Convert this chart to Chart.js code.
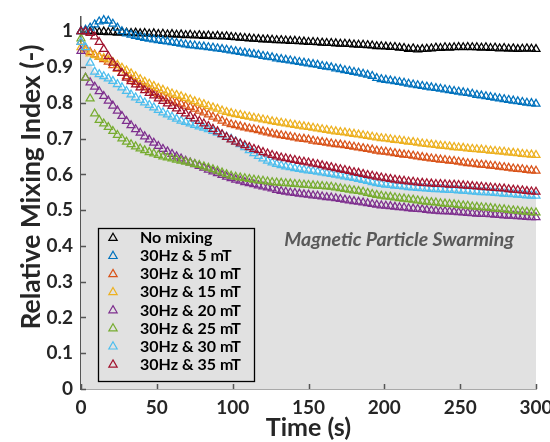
<!DOCTYPE html>
<html>
<head>
<meta charset="utf-8">
<script src="https://cdn.jsdelivr.net/npm/chart.js@4.4.1/dist/chart.umd.min.js"></script>
<style>
  html, body { margin: 0; padding: 0; background: #fff; }
  #wrap { position: relative; width: 550px; height: 442px; }
</style>
</head>
<body>
<div id="wrap"><canvas id="mix"></canvas></div>
<script>
// Relative mixing index vs time, one series per field setting

// time (s), sampled every 3 s
const times = [
  0, 3, 6, 9, 12, 15, 18, 21, 24, 27, 30,
  33, 36, 39, 42, 45, 48, 51, 54, 57, 60, 63,
  66, 69, 72, 75, 78, 81, 84, 87, 90, 93, 96,
  99, 102, 105, 108, 111, 114, 117, 120, 123, 126, 129,
  132, 135, 138, 141, 144, 147, 150, 153, 156, 159, 162,
  165, 168, 171, 174, 177, 180, 183, 186, 189, 192, 195,
  198, 201, 204, 207, 210, 213, 216, 219, 222, 225, 228,
  231, 234, 237, 240, 243, 246, 249, 252, 255, 258, 261,
  264, 267, 270, 273, 276, 279, 282, 285, 288, 291, 294,
  297, 300
];

const noMixing = [
  1.000, 1.001, 0.999, 1.000, 0.998, 0.999, 0.997, 0.998, 0.996, 0.997, 0.996,
  0.995, 0.996, 0.994, 0.995, 0.993, 0.994, 0.992, 0.993, 0.991, 0.992, 0.990,
  0.991, 0.989, 0.990, 0.988, 0.989, 0.987, 0.988, 0.986, 0.987, 0.985, 0.986,
  0.984, 0.983, 0.982, 0.981, 0.980, 0.979, 0.978, 0.977, 0.977, 0.976, 0.975,
  0.975, 0.974, 0.973, 0.973, 0.972, 0.971, 0.970, 0.970, 0.969, 0.968, 0.967,
  0.967, 0.966, 0.965, 0.965, 0.964, 0.963, 0.962, 0.962, 0.961, 0.960, 0.958,
  0.958, 0.957, 0.956, 0.956, 0.954, 0.953, 0.950, 0.952, 0.949, 0.950, 0.951,
  0.952, 0.954, 0.953, 0.955, 0.954, 0.955, 0.956, 0.955, 0.956, 0.955, 0.955,
  0.954, 0.955, 0.953, 0.954, 0.952, 0.953, 0.951, 0.952, 0.950, 0.951, 0.952,
  0.951, 0.950
];

const mT5 = [
  1.000, 1.004, 1.010, 1.019, 1.027, 1.031, 1.029, 1.021, 1.010, 1.000, 0.994,
  0.990, 0.987, 0.984, 0.981, 0.979, 0.977, 0.975, 0.973, 0.971, 0.969, 0.967,
  0.965, 0.963, 0.961, 0.960, 0.958, 0.957, 0.955, 0.954, 0.952, 0.950, 0.948,
  0.946, 0.944, 0.942, 0.940, 0.938, 0.936, 0.934, 0.931, 0.929, 0.927, 0.924,
  0.922, 0.920, 0.918, 0.916, 0.914, 0.912, 0.910, 0.908, 0.906, 0.903, 0.901,
  0.899, 0.896, 0.894, 0.891, 0.889, 0.886, 0.884, 0.881, 0.878, 0.875, 0.869,
  0.866, 0.864, 0.862, 0.860, 0.858, 0.856, 0.853, 0.851, 0.849, 0.847, 0.845,
  0.843, 0.841, 0.839, 0.837, 0.835, 0.833, 0.831, 0.829, 0.827, 0.825, 0.822,
  0.820, 0.818, 0.816, 0.814, 0.812, 0.810, 0.808, 0.806, 0.804, 0.802, 0.800,
  0.799, 0.797
];

const mT10 = [
  0.970, 0.952, 0.942, 0.935, 0.929, 0.922, 0.915, 0.905, 0.895, 0.884, 0.874,
  0.866, 0.858, 0.851, 0.844, 0.837, 0.830, 0.824, 0.818, 0.812, 0.806, 0.801,
  0.797, 0.792, 0.788, 0.783, 0.778, 0.773, 0.767, 0.761, 0.756, 0.750, 0.744,
  0.740, 0.737, 0.734, 0.731, 0.728, 0.726, 0.723, 0.720, 0.717, 0.714, 0.711,
  0.709, 0.707, 0.705, 0.703, 0.700, 0.699, 0.697, 0.694, 0.692, 0.690, 0.688,
  0.686, 0.684, 0.683, 0.681, 0.679, 0.677, 0.675, 0.673, 0.671, 0.669, 0.666,
  0.664, 0.663, 0.661, 0.659, 0.657, 0.655, 0.654, 0.652, 0.650, 0.648, 0.646,
  0.644, 0.643, 0.641, 0.640, 0.638, 0.637, 0.635, 0.633, 0.631, 0.630, 0.628,
  0.627, 0.626, 0.624, 0.623, 0.621, 0.620, 0.618, 0.616, 0.615, 0.614, 0.612,
  0.611, 0.610
];

const mT15 = [
  0.955, 0.945, 0.938, 0.933, 0.929, 0.925, 0.921, 0.914, 0.906, 0.898, 0.890,
  0.882, 0.874, 0.866, 0.859, 0.853, 0.847, 0.841, 0.836, 0.831, 0.826, 0.822,
  0.818, 0.813, 0.809, 0.804, 0.800, 0.796, 0.791, 0.787, 0.783, 0.778, 0.774,
  0.771, 0.768, 0.766, 0.763, 0.761, 0.758, 0.756, 0.753, 0.751, 0.748, 0.746,
  0.744, 0.742, 0.740, 0.738, 0.736, 0.734, 0.732, 0.730, 0.728, 0.726, 0.724,
  0.722, 0.720, 0.718, 0.717, 0.715, 0.713, 0.711, 0.709, 0.707, 0.705, 0.703,
  0.701, 0.700, 0.698, 0.696, 0.695, 0.693, 0.691, 0.690, 0.688, 0.686, 0.685,
  0.683, 0.682, 0.680, 0.679, 0.678, 0.676, 0.675, 0.674, 0.672, 0.671, 0.670,
  0.669, 0.668, 0.666, 0.665, 0.664, 0.663, 0.661, 0.660, 0.659, 0.657, 0.656,
  0.655, 0.654
];

const mT20 = [
  0.945, 0.870, 0.857, 0.845, 0.832, 0.819, 0.806, 0.792, 0.778, 0.763, 0.749,
  0.737, 0.726, 0.716, 0.706, 0.697, 0.688, 0.679, 0.671, 0.664, 0.657, 0.650,
  0.644, 0.638, 0.633, 0.628, 0.623, 0.618, 0.613, 0.608, 0.603, 0.598, 0.593,
  0.589, 0.585, 0.582, 0.578, 0.575, 0.572, 0.569, 0.566, 0.563, 0.560, 0.556,
  0.553, 0.551, 0.549, 0.548, 0.546, 0.544, 0.543, 0.541, 0.540, 0.538, 0.536,
  0.535, 0.533, 0.531, 0.529, 0.527, 0.525, 0.523, 0.521, 0.519, 0.517, 0.515,
  0.513, 0.512, 0.511, 0.509, 0.508, 0.507, 0.505, 0.504, 0.503, 0.502, 0.500,
  0.499, 0.498, 0.497, 0.497, 0.496, 0.495, 0.494, 0.493, 0.492, 0.491, 0.490,
  0.489, 0.489, 0.488, 0.487, 0.486, 0.485, 0.484, 0.484, 0.483, 0.482, 0.481,
  0.480, 0.480
];

const mT25 = [
  0.980, 0.870, 0.812, 0.770, 0.752, 0.742, 0.732, 0.721, 0.710, 0.700, 0.691,
  0.684, 0.678, 0.672, 0.667, 0.662, 0.658, 0.654, 0.650, 0.647, 0.644, 0.641,
  0.638, 0.635, 0.632, 0.629, 0.626, 0.622, 0.618, 0.614, 0.610, 0.605, 0.600,
  0.596, 0.593, 0.591, 0.589, 0.587, 0.585, 0.583, 0.582, 0.580, 0.578, 0.577,
  0.576, 0.575, 0.574, 0.573, 0.572, 0.571, 0.570, 0.569, 0.568, 0.567, 0.566,
  0.565, 0.563, 0.561, 0.559, 0.557, 0.555, 0.553, 0.551, 0.548, 0.545, 0.542,
  0.540, 0.538, 0.537, 0.535, 0.533, 0.532, 0.530, 0.529, 0.527, 0.525, 0.523,
  0.522, 0.521, 0.519, 0.518, 0.517, 0.516, 0.514, 0.513, 0.512, 0.510, 0.509,
  0.508, 0.507, 0.506, 0.504, 0.503, 0.502, 0.500, 0.499, 0.498, 0.496, 0.495,
  0.494, 0.493
];

const mT30 = [
  0.970, 0.955, 0.912, 0.887, 0.880, 0.874, 0.868, 0.861, 0.852, 0.843, 0.833,
  0.823, 0.815, 0.808, 0.801, 0.794, 0.787, 0.780, 0.773, 0.767, 0.761, 0.755,
  0.750, 0.746, 0.742, 0.738, 0.734, 0.730, 0.726, 0.721, 0.716, 0.711, 0.705,
  0.699, 0.692, 0.684, 0.676, 0.667, 0.659, 0.651, 0.644, 0.638, 0.633, 0.629,
  0.625, 0.622, 0.620, 0.617, 0.615, 0.613, 0.611, 0.609, 0.607, 0.605, 0.603,
  0.601, 0.599, 0.597, 0.594, 0.592, 0.590, 0.587, 0.584, 0.581, 0.578, 0.575,
  0.573, 0.571, 0.570, 0.568, 0.567, 0.566, 0.564, 0.563, 0.562, 0.561, 0.560,
  0.559, 0.558, 0.558, 0.557, 0.556, 0.556, 0.555, 0.554, 0.553, 0.552, 0.551,
  0.550, 0.550, 0.549, 0.548, 0.547, 0.546, 0.545, 0.544, 0.543, 0.542, 0.541,
  0.540, 0.540
];

const mT35 = [
  1.000, 0.999, 0.995, 0.985, 0.970, 0.950, 0.930, 0.912, 0.897, 0.883, 0.870,
  0.860, 0.851, 0.843, 0.835, 0.827, 0.820, 0.812, 0.805, 0.798, 0.791, 0.784,
  0.777, 0.770, 0.763, 0.756, 0.749, 0.742, 0.735, 0.727, 0.720, 0.712, 0.704,
  0.697, 0.691, 0.686, 0.681, 0.676, 0.671, 0.667, 0.662, 0.658, 0.654, 0.650,
  0.647, 0.645, 0.642, 0.640, 0.637, 0.635, 0.633, 0.630, 0.628, 0.625, 0.622,
  0.620, 0.617, 0.614, 0.612, 0.609, 0.606, 0.604, 0.601, 0.598, 0.596, 0.593,
  0.591, 0.589, 0.587, 0.585, 0.583, 0.582, 0.580, 0.579, 0.577, 0.576, 0.575,
  0.574, 0.573, 0.573, 0.572, 0.571, 0.571, 0.570, 0.569, 0.568, 0.567, 0.566,
  0.565, 0.564, 0.563, 0.562, 0.561, 0.560, 0.558, 0.557, 0.556, 0.555, 0.553,
  0.552, 0.551
];

const seriesNames = ["No mixing", "30Hz & 5 mT", "30Hz & 10 mT", "30Hz & 15 mT",
                     "30Hz & 20 mT", "30Hz & 25 mT", "30Hz & 30 mT", "30Hz & 35 mT"];
const seriesValues = [noMixing, mT5, mT10, mT15, mT20, mT25, mT30, mT35];
const xTicks = [0, 50, 100, 150, 200, 250, 300];
const yTicks = [0, 0.1, 0.2, 0.3, 0.4, 0.5, 0.6, 0.7, 0.8, 0.9, 1];

// MATLAB default line colours
const colors = ["#000000", "#0072BD", "#D95319", "#EDB120",
                "#7E2F8E", "#77AC30", "#4DBEEE", "#A2142F"];
const FONT = "Lato, 'Open Sans', sans-serif";
const INK = "#262626";

const datasets = seriesValues.map((vals, i) => ({
  label: seriesNames[i],
  data: times.map((t, k) => ({ x: t, y: vals[k] })),
  showLine: false,
  pointStyle: "triangle",
  pointRadius: 4.6,
  pointBorderWidth: 1.25,
  pointBorderColor: colors[i],
  pointBackgroundColor: "rgba(0,0,0,0)",
  borderColor: colors[i],
  // the 30 mT curve carries the grey shading down to zero
  fill: i === 6 ? "origin" : false,
  backgroundColor: i === 6 ? "#e1e1e1" : "rgba(0,0,0,0)",
  order: 20 - i,
  clip: false
}));

// inward ticks, axis titles, boxed legend and the annotation
const decor = {
  id: "decor",
  afterDraw(chart) {
    const { ctx, chartArea: a, scales: { x, y } } = chart;
    ctx.save();

    ctx.strokeStyle = "#555";
    ctx.lineWidth = 1.5;
    ctx.beginPath();
    y.ticks.forEach(t => {
      const py = Math.round(y.getPixelForValue(t.value)) + 0.5;
      ctx.moveTo(a.left, py); ctx.lineTo(a.left + 5, py);
    });
    x.ticks.forEach(t => {
      const px = Math.round(x.getPixelForValue(t.value)) + 0.5;
      ctx.moveTo(px, a.bottom); ctx.lineTo(px, a.bottom - 5);
    });
    ctx.stroke();

    // axis titles
    ctx.fillStyle = INK;
    ctx.textAlign = "center";
    ctx.textBaseline = "middle";
    ctx.font = "bold 25px " + FONT;
    ctx.fillText("Time (s)", (a.left + a.right) / 2, 428);
    ctx.save();
    ctx.translate(31, 187);
    ctx.rotate(-Math.PI / 2);
    ctx.font = "bold 26.5px " + FONT;
    ctx.fillText("Relative Mixing Index (-)", 0, 0);
    ctx.restore();

    // annotation
    ctx.fillStyle = "#595959";
    ctx.font = "italic bold 19.5px " + FONT;
    ctx.textAlign = "right";
    ctx.fillText("Magnetic Particle Swarming", 514, 240);

    // legend box
    const bx = 98, by = 228, bw = 156, bh = 153;
    ctx.strokeStyle = "#000";
    ctx.lineWidth = 1.3;
    ctx.strokeRect(bx + 0.5, by + 0.5, bw, bh);
    ctx.font = "bold 16px " + FONT;
    ctx.textAlign = "left";
    seriesNames.forEach((name, i) => {
      const cy = by + 10 + i * 18.1;
      const r = 4.8;
      ctx.strokeStyle = colors[i];
      ctx.lineWidth = 1.2;
      ctx.beginPath();
      ctx.moveTo(113, cy - r);
      ctx.lineTo(113 + r * 0.866, cy + r * 0.5);
      ctx.lineTo(113 - r * 0.866, cy + r * 0.5);
      ctx.closePath();
      ctx.stroke();
      ctx.fillStyle = "#000";
      ctx.fillText(name, 140, cy);
    });

    ctx.restore();
  }
};

new Chart(document.getElementById("mix"), {
  type: "line",
  data: { datasets },
  options: {
    responsive: true,
    maintainAspectRatio: false,
    animation: false,
    layout: { padding: { top: 17, right: 14, left: 0, bottom: 0 } },
    plugins: {
      legend: { display: false },
      tooltip: { enabled: false },
      filler: { propagate: false, drawTime: "beforeDatasetsDraw" }
    },
    scales: {
      x: {
        type: "linear",
        min: 0,
        max: 300,
        afterBuildTicks: s => { s.ticks = xTicks.map(v => ({ value: v })); },
        afterFit: s => { s.height = 53; s.paddingLeft = 0; s.paddingRight = 0; },
        grid: { drawOnChartArea: false, drawTicks: false },
        border: { display: true, color: "#555", width: 1.5 },
        ticks: {
          padding: 7,
          color: INK,
          font: { family: FONT, size: 19, weight: "bold" },
          maxRotation: 0
        }
      },
      y: {
        min: 0,
        max: 1.04,
        afterBuildTicks: s => { s.ticks = yTicks.map(v => ({ value: v })); },
        afterFit: s => { s.width = 81; s.paddingTop = 0; s.paddingBottom = 0; },
        grid: { drawOnChartArea: false, drawTicks: false },
        border: { display: true, color: "#555", width: 1.5 },
        ticks: {
          padding: 8,
          color: INK,
          font: { family: FONT, size: 19, weight: "bold" },
          callback: v => String(+v.toFixed(1))
        }
      }
    }
  },
  plugins: [decor]
});
</script>
</body>
</html>
